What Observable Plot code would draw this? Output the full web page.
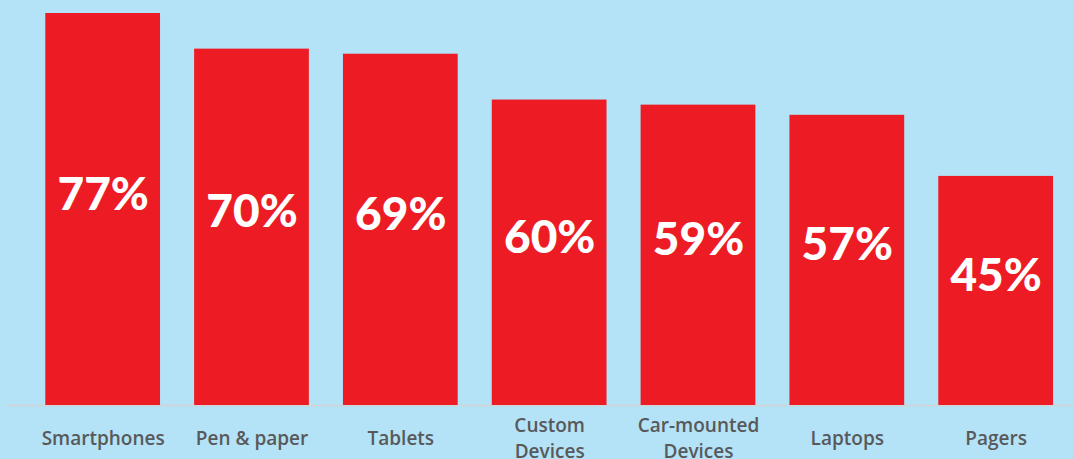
<!DOCTYPE html>
<html>
<head>
<meta charset="utf-8">
<script src="https://cdn.jsdelivr.net/npm/d3@7"></script>
<script src="https://cdn.jsdelivr.net/npm/@observablehq/plot@0.6"></script>
<style>
  html, body { margin: 0; padding: 0; background: #b4e2f6; }
  #chart svg { display: block; }
</style>
</head>
<body>
<div id="chart"></div>
<script>
const categories = ["Smartphones", "Pen & paper", "Tablets", "Custom Devices", "Car-mounted Devices", "Laptops", "Pagers"];
const tickLabels = ["Smartphones", "Pen & paper", "Tablets", "Custom\nDevices", "Car-mounted\nDevices", "Laptops", "Pagers"];
const values = [77, 70, 69, 60, 59, 57, 45];

const data = categories.map((c, i) => ({category: c, label: tickLabels[i], value: values[i]}));

const chart = Plot.plot({
  width: 1073,
  height: 459,
  marginLeft: 8,
  marginRight: 0,
  marginTop: 13,
  marginBottom: 54,
  style: {background: "#b4e2f6", overflow: "visible"},
  x: {domain: categories, range: [11.2, 1087.1], padding: 0.229, round: false, axis: null},
  y: {domain: [0, 77], range: [405, 13], axis: null},
  marks: [
    Plot.ruleY([0], {stroke: "#ccd6db", strokeWidth: 2}),
    Plot.barY(data, {x: "category", y: "value", fill: "#ed1c24"}),
    Plot.text(data, {
      x: "category",
      y: d => d.value / 2,
      text: d => d.value + "%",
      fill: "white",
      fontSize: 46,
      fontWeight: 900,
      fontFamily: "Lato",
      lineAnchor: "bottom",
      textAnchor: "middle"
    }),
    Plot.text(data, {
      x: "category",
      y: () => 0,
      text: "label",
      fill: "#58595b",
      fontSize: 19,
      fontWeight: 600,
      fontFamily: "Open Sans",
      lineAnchor: "middle",
      lineHeight: 1.37,
      dy: 31
    })
  ]
});
document.getElementById("chart").appendChild(chart);
</script>
</body>
</html>
